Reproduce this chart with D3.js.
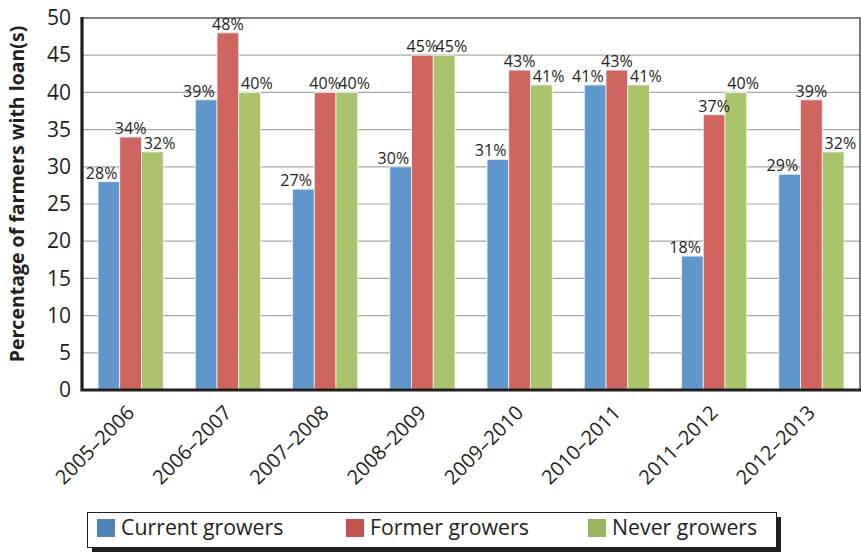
<!DOCTYPE html>
<html>
<head>
<meta charset="utf-8">
<script src="https://cdn.jsdelivr.net/npm/d3@7"></script>
<style>
  html, body { margin: 0; padding: 0; background: #fff; }
  svg { display: block; font-family: "Open Sans", "Noto Sans", sans-serif; }
</style>
</head>
<body>
<svg id="chart" width="861" height="553"></svg>
<script>
// Loan share by survey year and grower group
const seasons = ["2005–2006", "2006–2007", "2007–2008", "2008–2009",
                 "2009–2010", "2010–2011", "2011–2012", "2012–2013"];
const seriesNames = ["Current growers", "Former growers", "Never growers"];
const currentGrowers = [28, 39, 27, 30, 31, 41, 18, 29];
const formerGrowers  = [34, 48, 40, 45, 43, 43, 37, 39];
const neverGrowers   = [32, 40, 40, 45, 41, 41, 40, 32];
const yTicks = [0, 5, 10, 15, 20, 25, 30, 35, 40, 45, 50];

const barColors    = ["#5f96cb", "#cf655f", "#a9c46a"];
const legendColors = ["#4f84b9", "#c0534e", "#9ab55c"];
const seriesValues = [currentGrowers, formerGrowers, neverGrowers];

const svg = d3.select("#chart");
const plot = { left: 82, right: 860, top: 18, bottom: 390 };

const x = d3.scaleBand()
  .domain(seasons)
  .range([plot.left, plot.right])
  .paddingInner(0.33)
  .paddingOuter(0.165);

const xs = d3.scaleBand()
  .domain(d3.range(seriesNames.length))
  .range([0, x.bandwidth()]);

const y = d3.scaleLinear().domain([0, 50]).range([plot.bottom, plot.top]);

// gridlines
svg.append("g")
  .selectAll("line")
  .data(yTicks.filter(t => t > 0 && t < 50))
  .join("line")
  .attr("x1", plot.left).attr("x2", plot.right)
  .attr("y1", d => y(d)).attr("y2", d => y(d))
  .attr("stroke", "#a8a8a8").attr("stroke-width", 1.2);

// frame: thin top and right edges
svg.append("path")
  .attr("d", `M${plot.left},${plot.top}H${plot.right}V${plot.bottom}`)
  .attr("fill", "none").attr("stroke", "#5a5a5a").attr("stroke-width", 1.6);

// bars
const rows = seasons.map((s, i) => ({ season: s, values: seriesValues.map(v => v[i]) }));
const groups = svg.append("g").selectAll("g")
  .data(rows)
  .join("g")
  .attr("transform", d => `translate(${x(d.season)},0)`);

groups.selectAll("rect")
  .data(d => d.values.map((v, k) => ({ k, v })))
  .join("rect")
  .attr("x", d => xs(d.k))
  .attr("y", d => y(d.v))
  .attr("width", xs.bandwidth())
  .attr("height", d => y(0) - y(d.v))
  .attr("fill", d => barColors[d.k])
  .attr("stroke", "#f4f4f4")
  .attr("stroke-width", 0.8);

// value labels, spread slightly wider than the bars
groups.selectAll("text")
  .data(d => d.values.map((v, k) => ({ k, v })))
  .join("text")
  .attr("x", d => x.bandwidth() / 2 + (d.k - 1) * 29)
  .attr("y", d => y(d.v) - 3)
  .attr("text-anchor", "middle")
  .attr("font-size", 16)
  .attr("fill", "#231f20")
  .text(d => d.v + "%");

// y axis
const yAxis = svg.append("g")
  .attr("transform", `translate(${plot.left},0)`)
  .call(d3.axisLeft(y).tickValues(yTicks).tickSize(0).tickPadding(11));
yAxis.select(".domain").remove();
yAxis.selectAll("text")
  .attr("font-size", 21)
  .attr("font-family", "Open Sans, sans-serif")
  .attr("fill", "#231f20");

// x axis labels
const xAxis = svg.append("g")
  .attr("transform", `translate(0,${plot.bottom})`)
  .call(d3.axisBottom(x).tickSize(0).tickPadding(0));
xAxis.select(".domain").remove();
xAxis.selectAll("text")
  .attr("font-size", 20)
  .attr("font-family", "Open Sans, sans-serif")
  .attr("fill", "#231f20")
  .attr("text-anchor", "end")
  .attr("dy", 0)
  .attr("transform", "translate(5,24) rotate(-45)");

// heavy left and bottom axis lines
svg.append("path")
  .attr("d", `M${plot.left},${plot.top - 1}V${plot.bottom}H${plot.right + 1}`)
  .attr("fill", "none").attr("stroke", "#231f20").attr("stroke-width", 3.2);

// y axis title
svg.append("text")
  .attr("transform", `translate(24,${(plot.top + plot.bottom) / 2 - 10}) rotate(-90)`)
  .attr("text-anchor", "middle")
  .attr("font-size", 19.5)
  .attr("font-weight", "bold")
  .attr("fill", "#231f20")
  .text("Percentage of farmers with loan(s)");

// legend with drop shadow
const legend = svg.append("g");
legend.append("rect")
  .attr("x", 92).attr("y", 517).attr("width", 689).attr("height", 35)
  .attr("fill", "#231f20");
legend.append("rect")
  .attr("x", 87.5).attr("y", 512.5).attr("width", 689).attr("height", 35)
  .attr("fill", "#fff").attr("stroke", "#231f20").attr("stroke-width", 1);

const legendX = [97, 346, 588];
const items = legend.selectAll("g.item")
  .data(seriesNames)
  .join("g")
  .attr("class", "item")
  .attr("transform", (d, i) => `translate(${legendX[i]},519)`);
items.append("rect")
  .attr("width", 18).attr("height", 18)
  .attr("fill", (d, i) => legendColors[i]);
items.append("text")
  .attr("x", 24).attr("y", 16)
  .attr("font-size", 21.3)
  .attr("fill", "#231f20")
  .text(d => d);
</script>
</body>
</html>
